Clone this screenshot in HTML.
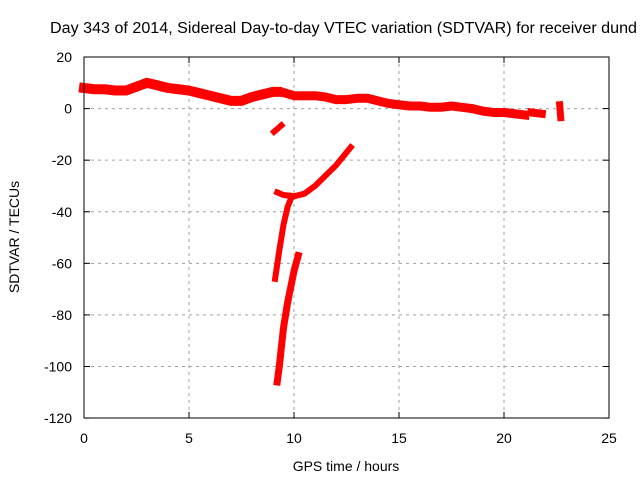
<!DOCTYPE html>
<html><head><meta charset="utf-8"><style>
body{margin:0;background:#fff;font-family:"Liberation Sans",sans-serif}
text{font-family:"Liberation Sans",sans-serif;font-size:14px;fill:#000}
</style></head><body>
<svg width="640" height="480" xmlns="http://www.w3.org/2000/svg">
<text x="50" y="33" textLength="587" lengthAdjust="spacingAndGlyphs" style="font-size:15.5px">Day 343 of 2014, Sidereal Day-to-day VTEC variation (SDTVAR) for receiver dund</text>
<g id="grid"></g>
<g id="series"></g>
<rect x="84" y="57" width="525" height="361" fill="none" stroke="#000"/>
<g id="ticks"></g>
<text x="346" y="471" text-anchor="middle">GPS time / hours</text>
<text transform="translate(19,237) rotate(-90)" text-anchor="middle">SDTVAR / TECUs</text>
</svg>
<script>
const xTicks=[0,5,10,15,20,25];
const yTicks=[20,0,-20,-40,-60,-80,-100,-120];
const segMainAX=[0,0.5,1,1.5,2,2.5,3,3.5,4,4.5,5,5.5,6,6.5,7,7.5,8,8.5,9,9.2];
const segMainAY=[8,7.5,7.5,7,7,8.5,10,9,8,7.5,7,6,5,4,3,3,4.5,5.5,6.5,6.5];
const segMainBX=[9.6,10,10.5,11,11.5,12,12.5,13,13.5,14,14.5,15,15.5,16,16.5,17,17.5,18,18.5,19,19.5,20,20.5,21];
const segMainBY=[6,5,5,5,4.5,3.5,3.5,4,4,3,2,1.5,1,1,0.5,0.5,1,0.5,0,-1,-1.5,-1.5,-2,-2.5];
const segTailX=[21.3,21.8];
const segTailY=[-1.5,-2];
const segEndX=[22.65,22.7];
const segEndY=[1.5,-3.5];
const segSmallX=[9.05,9.4];
const segSmallY=[-9,-6.5];
const segMidX=[9.1,9.3,9.5,9.7,9.9];
const segMidY=[-66,-55,-45,-38,-34];
const segArcX=[9.2,9.5,10,10.5,11,11.5,12,12.7];
const segArcY=[-32.5,-33.5,-34,-33,-30,-26,-22,-15];
const segLowX=[9.2,9.3,9.5,9.7,10,10.2];
const segLowY=[-106,-100,-85,-75,-63,-57];
const X=v=>84+v*21, Y=v=>108.6-v*2.579;
const NS="http://www.w3.org/2000/svg";
const grid=document.getElementById('grid'), ticks=document.getElementById('ticks'), ser=document.getElementById('series');
function mk(tag,attrs,parent){const e=document.createElementNS(NS,tag);for(const k in attrs)e.setAttribute(k,attrs[k]);parent.appendChild(e);return e;}
xTicks.forEach(t=>{
 if(t>0&&t<25){const g=mk('line',{x1:X(t),x2:X(t),y1:57,y2:418,stroke:'#a0a0a0','stroke-dasharray':'3,4'},grid);
 
 }
 mk('line',{x1:X(t),x2:X(t),y1:418,y2:412,stroke:'#000'},ticks);
 mk('line',{x1:X(t),x2:X(t),y1:57,y2:63,stroke:'#000'},ticks);
 const l=mk('text',{x:X(t),y:443,'text-anchor':'middle'},ticks);l.textContent=t;
 
 
});
yTicks.forEach(t=>{
 if(t<20&&t>-120){const g=mk('line',{x1:84,x2:609,y1:Y(t),y2:Y(t),stroke:'#a0a0a0','stroke-dasharray':'3,4'},grid);
 
 }
 mk('line',{x1:84,x2:90,y1:Y(t),y2:Y(t),stroke:'#000'},ticks);
 mk('line',{x1:603,x2:609,y1:Y(t),y2:Y(t),stroke:'#000'},ticks);
 const l=mk('text',{x:72,y:Y(t)+5,'text-anchor':'end'},ticks);l.textContent=t;
 
 
});
[[segMainAX,segMainAY,10],[segMainBX,segMainBY,9],[segTailX,segTailY,8],[segEndX,segEndY,7],[segSmallX,segSmallY,6],[segMidX,segMidY,6],[segArcX,segArcY,6],[segLowX,segLowY,7]].forEach(([xs,ys,w])=>{
 const p=mk('polyline',{points:xs.map((x,i)=>X(x)+','+Y(ys[i])).join(' '),fill:'none',stroke:'#f00','stroke-width':w,'stroke-linejoin':'round','stroke-linecap':'square'},ser);
 
 
});
</script>
</body></html>
